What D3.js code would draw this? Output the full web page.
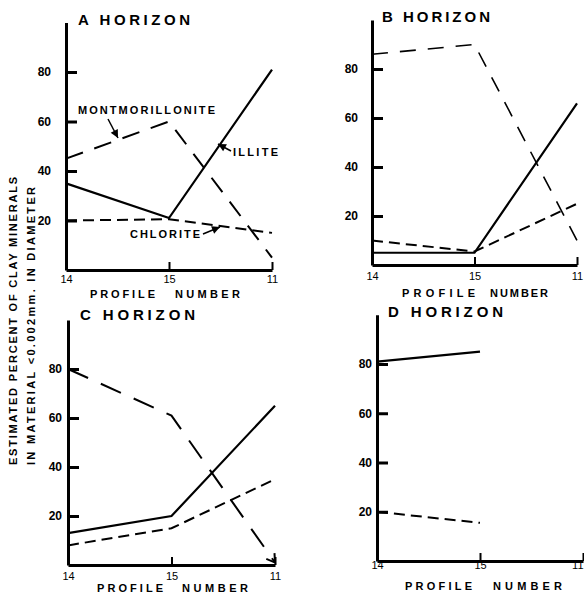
<!DOCTYPE html>
<html>
<head>
<meta charset="utf-8">
<script src="https://cdn.jsdelivr.net/npm/d3@7"></script>
<style>
  body { margin: 0; background: #fff; }
  svg { display: block; font-family: "Liberation Sans", Arial, sans-serif; }
</style>
</head>
<body>
<svg id="chart" width="584" height="594"></svg>
<script>
var profiles = ['14', '15', '11'];
var yTicks = [20, 40, 60, 80];
var horizons = ['A HORIZON', 'B HORIZON', 'C HORIZON', 'D HORIZON'];
var illite = [[35, 21, 81], [5, 5, 66], [13, 20, 65], [81, 85]];
var montmorillonite = [[45, 60, 5], [86, 90, 10], [80, 61, 1], []];
var chlorite = [[20, 20.5, 15], [10, 5.5, 25], [8, 15, 35], [20, 15.5]];
var yTitle = ['ESTIMATED PERCENT OF CLAY MINERALS', 'IN MATERIAL <0.002mm. IN DIAMETER'];

// panel placement
var panels = [
	{ ax: 66, xEnd: 272, y0: 270, k: 2.475, tickPad: 15, xPad: 5, title: [78, 25, 112], profile: [90, 65], number: [175, 65], pnBase: 298, montDash: '18,12' },
	{ ax: 372, xEnd: 577, y0: 265, k: 2.45, tickPad: 14, xPad: 7, title: [382, 22, 108], profile: [402, 73], number: [490, 58], pnBase: 297, montDash: '16,12' },
	{ ax: 68, xEnd: 275, y0: 565, k: 2.45, tickPad: 6, xPad: 7, title: [80, 320, 115], profile: [97, 66], number: [182, 66], pnBase: 592, montDash: '22,14' },
	{ ax: 377, xEnd: 583, y0: 561, k: 2.4625, tickPad: 5, xPad: 0, title: [388, 317, 115], profile: [405, 67], number: [493, 69], pnBase: 590, montDash: '18,12' }
];

var svg = d3.select('#chart');

var defs = svg.append('defs');
defs.append('marker')
	.attr('id', 'head')
	.attr('viewBox', '-9 -5 10 10')
	.attr('markerUnits', 'userSpaceOnUse')
	.attr('markerWidth', 10)
	.attr('markerHeight', 10)
	.attr('orient', 'auto')
	.append('path')
	.attr('d', 'M-8,-4L0,0L-8,4Z')
	.attr('fill', '#000');
defs.append('marker')
	.attr('id', 'vee')
	.attr('viewBox', '-10 -6 12 12')
	.attr('markerUnits', 'userSpaceOnUse')
	.attr('markerWidth', 12)
	.attr('markerHeight', 12)
	.attr('orient', 'auto')
	.append('path')
	.attr('d', 'M-8,-5L0,0L-8,5')
	.attr('fill', 'none')
	.attr('stroke', '#000')
	.attr('stroke-width', 2);

panels.forEach(function(p, i) {
	var x = d3.scalePoint().domain(profiles).range([p.ax, p.xEnd]);
	var y = d3.scaleLinear().domain([0, 100]).range([p.y0, p.y0 - 100 * p.k]);
	var g = svg.append('g');

	var yAxis = g.append('g')
		.attr('transform', 'translate(' + p.ax + ',0)')
		.call(d3.axisLeft(y).tickValues(yTicks).tickSize(-11).tickSizeOuter(0).tickPadding(p.tickPad));
	yAxis.select('.domain').attr('stroke-width', 3);
	yAxis.selectAll('.tick line').attr('stroke-width', 3);
	yAxis.selectAll('.tick text')
		.attr('font-size', 12)
		.attr('font-weight', 'bold')
		.attr('font-family', '"Liberation Sans", Arial, sans-serif')
		.attr('fill', '#000');

	var xAxis = g.append('g')
		.attr('transform', 'translate(0,' + p.y0 + ')')
		.call(d3.axisBottom(x).tickSize(-8).tickSizeOuter(0).tickPadding(p.xPad));
	xAxis.select('.domain').attr('stroke-width', 3);
	xAxis.selectAll('.tick line').attr('stroke-width', 2);
	xAxis.selectAll('.tick text')
		.attr('font-size', 11)
		.attr('font-family', '"Liberation Sans", Arial, sans-serif')
		.attr('fill', '#000');
	// last label of the D panel sits on the page edge
	if (i == 3) xAxis.selectAll('.tick text').filter(function(d) { return d == '11'; }).attr('text-anchor', 'end');

	var line = d3.line()
		.x(function(d, j) { return x(profiles[j]); })
		.y(function(d) { return y(d); });

	if (montmorillonite[i].length) {
		var m = g.append('path')
			.attr('d', line(montmorillonite[i]))
			.attr('fill', 'none')
			.attr('stroke', '#000')
			.attr('stroke-width', i == 1 ? 1.6 : 2)
			.attr('stroke-dasharray', p.montDash);
		if (i == 2) m.attr('marker-end', 'url(#vee)');
	}
	g.append('path')
		.attr('d', line(chlorite[i]))
		.attr('fill', 'none')
		.attr('stroke', '#000')
		.attr('stroke-width', 2)
		.attr('stroke-dasharray', '11,6');
	g.append('path')
		.attr('d', line(illite[i]))
		.attr('fill', 'none')
		.attr('stroke', '#000')
		.attr('stroke-width', 2.2);

	g.append('text')
		.attr('x', p.title[0])
		.attr('y', p.title[1])
		.attr('textLength', p.title[2])
		.attr('lengthAdjust', 'spacing')
		.attr('font-size', 15)
		.attr('font-weight', 'bold')
		.text(horizons[i]);

	g.append('text')
		.attr('x', p.profile[0])
		.attr('y', p.pnBase)
		.attr('textLength', p.profile[1])
		.attr('lengthAdjust', 'spacing')
		.attr('font-size', 11)
		.attr('font-weight', 'bold')
		.text('PROFILE');
	g.append('text')
		.attr('x', p.number[0])
		.attr('y', p.pnBase)
		.attr('textLength', p.number[1])
		.attr('lengthAdjust', 'spacing')
		.attr('font-size', 11)
		.attr('font-weight', 'bold')
		.text('NUMBER');
});

// labels with arrows in the A panel
var notes = [
	{ text: 'MONTMORILLONITE', x: 78, y: 114, w: 137, from: [108, 119], to: [118, 138] },
	{ text: 'ILLITE', x: 233, y: 156, w: 45, from: [231, 151], to: [218, 144] },
	{ text: 'CHLORITE', x: 130, y: 238, w: 70, from: [203, 234], to: [220, 227] }
];
notes.forEach(function(n) {
	svg.append('text')
		.attr('x', n.x)
		.attr('y', n.y)
		.attr('textLength', n.w)
		.attr('lengthAdjust', 'spacing')
		.attr('font-size', 11)
		.attr('font-weight', 'bold')
		.text(n.text);
	svg.append('line')
		.attr('x1', n.from[0]).attr('y1', n.from[1])
		.attr('x2', n.to[0]).attr('y2', n.to[1])
		.attr('stroke', '#000')
		.attr('stroke-width', 1.5)
		.attr('marker-end', 'url(#head)');
});

svg.append('text')
	.attr('transform', 'translate(13,321) rotate(-90)')
	.attr('text-anchor', 'middle')
	.attr('dy', '0.35em')
	.attr('textLength', 288)
	.attr('lengthAdjust', 'spacing')
	.attr('font-size', 11)
	.attr('font-weight', 'bold')
	.text(yTitle[0]);
svg.append('text')
	.attr('transform', 'translate(31,326) rotate(-90)')
	.attr('text-anchor', 'middle')
	.attr('dy', '0.35em')
	.attr('textLength', 278)
	.attr('lengthAdjust', 'spacing')
	.attr('font-size', 11)
	.attr('font-weight', 'bold')
	.text(yTitle[1]);
</script>
</body>
</html>
